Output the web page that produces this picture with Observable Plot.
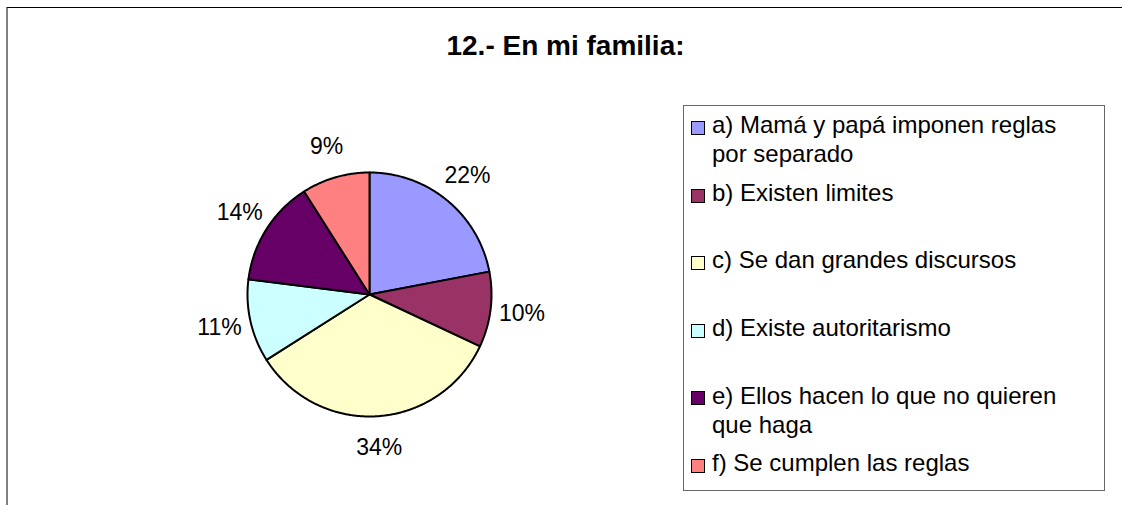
<!DOCTYPE html>
<html><head><meta charset="utf-8">
<script src="https://cdn.jsdelivr.net/npm/d3@7"></script>
<script src="https://cdn.jsdelivr.net/npm/@observablehq/plot@0.6"></script>
<style>
html,body{margin:0;padding:0;background:#fff;}
#wrap{position:relative;width:1122px;height:505px;overflow:hidden;font-family:"Liberation Sans",Arial,sans-serif;color:#000;}
#frame{position:absolute;left:6px;top:7px;width:1200px;height:600px;border-top:1px solid #000;border-left:2px solid #808080;}
#title{position:absolute;left:0;width:1131px;top:32px;text-align:center;font-weight:bold;font-size:28px;line-height:28px;white-space:nowrap;}
#legend{position:absolute;left:683px;top:105px;width:422px;height:386px;box-sizing:border-box;border:1px solid #666;}
.sw{position:absolute;width:14px;height:14px;box-sizing:border-box;border:1px solid #000;}
.lt{position:absolute;font-size:24px;line-height:29px;white-space:nowrap;}
#chart{position:absolute;left:0;top:0;}
</style>
</head><body>
<div id="wrap">
  <div id="frame"></div>
  <div id="chart"></div>
  <div id="title"></div>
  <div id="legend"></div>
</div>
<script>
const title = "12.- En mi familia:";
const categories = [
  "a) Mamá y papá imponen reglas por separado",
  "b) Existen limites",
  "c) Se dan grandes discursos",
  "d) Existe autoritarismo",
  "e) Ellos hacen lo que no quieren que haga",
  "f) Se cumplen las reglas"
];
const legendLines = [
  ["a) Mamá y papá imponen reglas", "por separado"],
  ["b) Existen limites"],
  ["c) Se dan grandes discursos"],
  ["d) Existe autoritarismo"],
  ["e) Ellos hacen lo que no quieren", "que haga"],
  ["f) Se cumplen las reglas"]
];
const values = [22, 10, 34, 11, 14, 9];
const colors = ["#9999FF", "#993366", "#FFFFCC", "#CCFFFF", "#660066", "#FF8080"];

document.getElementById("title").textContent = title;

const total = d3.sum(values);
let cum = 0;
const slicePts = [];
const labels = [];
values.forEach((v, i) => {
  const cat = categories[i];
  const a0 = cum / total * 2 * Math.PI;
  cum += v;
  const a1 = cum / total * 2 * Math.PI;
  slicePts.push({cat, x: 0, y: 0});
  const n = Math.max(2, Math.ceil((a1 - a0) / (Math.PI / 360)));
  for (let k = 0; k <= n; k++) {
    const a = a0 + (a1 - a0) * k / n;
    slicePts.push({cat, x: Math.sin(a), y: Math.cos(a)});
  }
  slicePts.push({cat, x: 0, y: 0});
  const am = (a0 + a1) / 2;
  labels.push({text: v + "%", x: 1.26 * Math.sin(am), y: 1.26 * Math.cos(am)});
});

const chart = Plot.plot({
  width: 1122,
  height: 505,
  margin: 0,
  style: {background: "transparent", overflow: "visible"},
  x: {domain: [-1, 1], range: [247, 491], axis: null},
  y: {domain: [-1, 1], range: [416, 172], axis: null},
  color: {domain: categories, range: colors},
  marks: [
    Plot.line(slicePts, {x: "x", y: "y", z: "cat", fill: "cat", stroke: "#000", strokeWidth: 2, strokeLinejoin: "round"}),
    Plot.text(labels, {x: "x", y: "y", text: "text", fontSize: 23, fill: "#000", fontFamily: "Liberation Sans, Arial, sans-serif", textAnchor: "middle", lineAnchor: "middle"})
  ]
});
document.getElementById("chart").appendChild(chart);

const wrap = document.getElementById("wrap");
legendLines.forEach((lines, i) => {
  const base = 133 + i * 67.6;
  const sw = document.createElement("div");
  sw.className = "sw";
  sw.style.left = "691px";
  sw.style.top = (base - 12) + "px";
  sw.style.background = colors[i];
  wrap.appendChild(sw);
  const t = document.createElement("div");
  t.className = "lt";
  t.style.left = "712px";
  t.style.top = (base - 22.8) + "px";
  t.innerHTML = lines.map(s => s.replace(/&/g, "&amp;").replace(/</g, "&lt;")).join("<br>");
  wrap.appendChild(t);
});
</script>
</body></html>
